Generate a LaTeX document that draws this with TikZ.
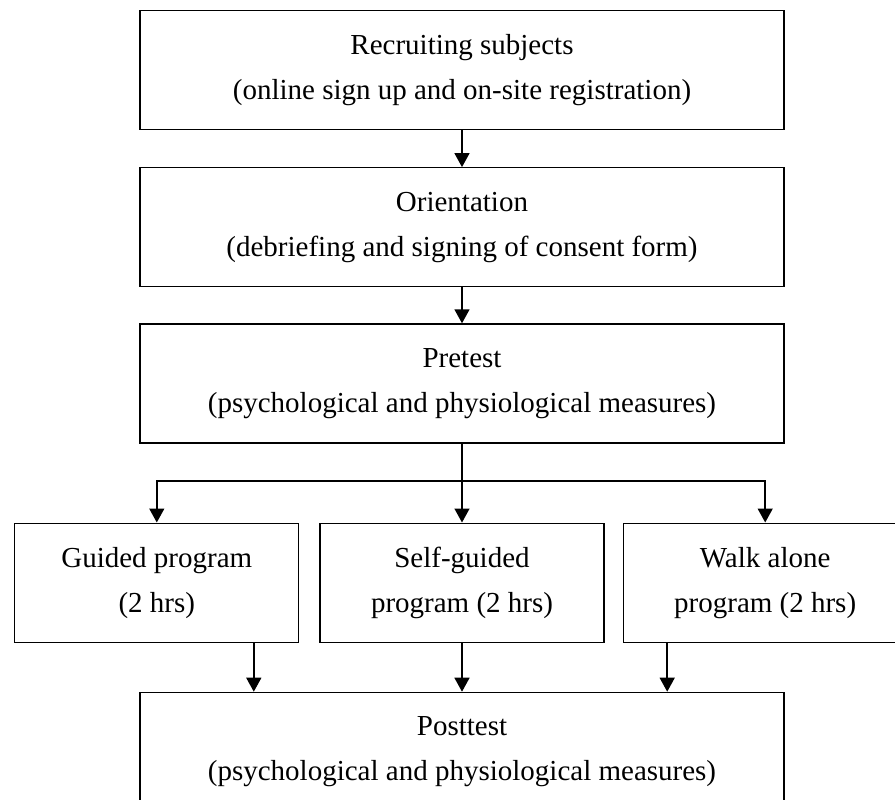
\documentclass[tikz,border=0pt]{standalone}
\usepackage{fontspec}
\setmainfont{Liberation Serif}
\usetikzlibrary{positioning,arrows.meta}

\begin{document}
\begin{tikzpicture}[x=1pt, y=-1pt,
                    every node/.style={align=center, font=\fontsize{29}{45}\selectfont},
                    box/.style={draw, line width=1.2pt, minimum height=119pt, inner sep=0pt},
                    widebox/.style={box, minimum width=644pt},
                    armbox/.style={box, minimum width=284pt},
                    link/.style={line width=1.5pt},
                    arr/.style={link, -{Triangle[length=14pt,width=15pt]}}
                ]
                    \useasboundingbox (0,0) rectangle (895,800);

                    % Nodes (vertical layout)
                    \node (recruit) [widebox] at (462,70) {Recruiting subjects \\ (online sign up and on-site registration)};
                    \node (orient) [widebox, below=37pt of recruit] {Orientation \\ (debriefing and signing of consent form)};
                    \node (pretest) [widebox, below=36pt of orient] {Pretest \\ (psychological and physiological measures)};
                    \node (selfg) [armbox, below=79pt of pretest] {Self-guided \\ program (2 hrs)};
                    \node (guided) [armbox, left=20pt of selfg] {Guided program \\ (2 hrs)};
                    \node (walk) [armbox, right=18pt of selfg] {Walk alone \\ program (2 hrs)};
                    \node (post) [widebox, below=49pt of selfg] {Posttest \\ (psychological and physiological measures)};
                    \coordinate (split) at (462,481);

                    % Arrows
                    \draw[arr] (recruit) -- (orient);
                    \draw[arr] (orient) -- (pretest);
                    \draw[link] (pretest) -- (split);
                    \draw[arr] (split) -| (guided);
                    \draw[arr] (split) -- (selfg);
                    \draw[arr] (split) -| (walk);
                    \draw[arr] ([xshift=97pt]guided.south) -- ([xshift=97pt]guided.south |- post.north);
                    \draw[arr] (selfg) -- (post);
                    \draw[arr] ([xshift=-98pt]walk.south) -- ([xshift=-98pt]walk.south |- post.north);

                \end{tikzpicture}
\end{document}
